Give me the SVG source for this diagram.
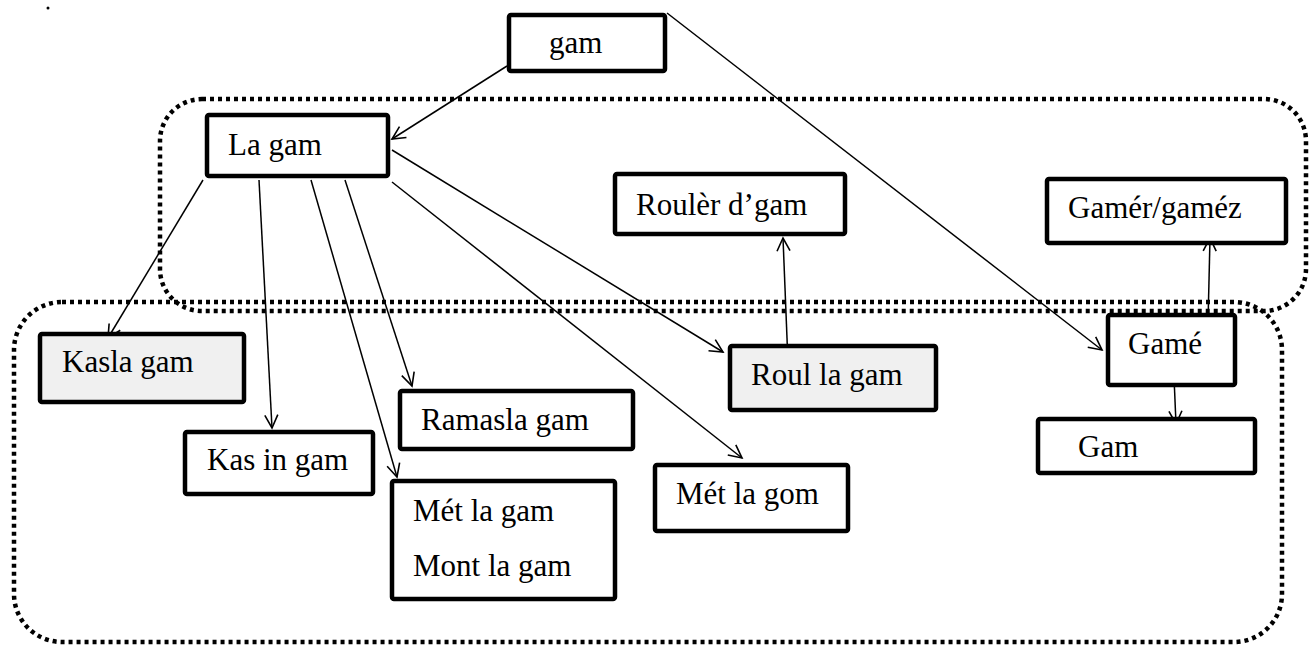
<svg xmlns="http://www.w3.org/2000/svg" width="1314" height="646" viewBox="0 0 1314 646">
  <style>
    .box { fill: #ffffff; stroke: #000; stroke-width: 4.5; stroke-linejoin: round; }
    .shade { fill: #f0f0f0; }
    .lbl { font-family: "Liberation Serif", "Times New Roman", serif; font-size: 31px; fill: #000; }
    .group { fill: none; stroke: #000; stroke-width: 4.5; stroke-dasharray: 4 4; }
    .link { fill: none; stroke: #000; stroke-width: 1.5; marker-end: url(#open); }
  </style>
  <defs>
    <marker id="open" viewBox="-14 -8 16 16" markerWidth="16" markerHeight="16" refX="0" refY="0" orient="auto" markerUnits="userSpaceOnUse">
      <path d="M -13 -6.5 L 0 0 L -13 6.5" fill="none" stroke="#000" stroke-width="1.6"/>
    </marker>
  </defs>

  <rect width="1314" height="646" fill="#fff"/>
  <circle cx="48" cy="8" r="1.5" fill="#000"/>

  <!-- dotted groupings -->
  <g id="groups">
    <rect class="group" x="160" y="99" width="1146" height="212" rx="42"/>
    <rect class="group" x="14" y="302" width="1268" height="340" rx="48"/>
  </g>

  <!-- connectors -->
  <g id="connectors">
    <line class="link" x1="507" y1="66" x2="392" y2="139"/>
    <line class="link" x1="667" y1="13" x2="1102" y2="350"/>
    <line class="link" x1="203" y1="180" x2="108" y2="338"/>
    <line class="link" x1="259" y1="180" x2="272" y2="428"/>
    <line class="link" x1="311" y1="180" x2="397" y2="477"/>
    <line class="link" x1="345" y1="180" x2="412" y2="386"/>
    <line class="link" x1="392" y1="182" x2="742" y2="458"/>
    <line class="link" x1="392" y1="150" x2="723" y2="352"/>
    <line class="link" x1="788" y1="363" x2="783" y2="238"/>
    <line class="link" x1="1208" y1="323" x2="1210" y2="238"/>
    <line class="link" x1="1174" y1="377" x2="1176" y2="424"/>
  </g>

  <!-- nodes -->
  <g id="n-gam">
    <rect class="box" x="509" y="15" width="156" height="56" rx="2"/>
    <text class="lbl" x="549" y="53">gam</text>
  </g>
  <g id="n-la-gam">
    <rect class="box" x="207" y="115" width="181" height="61" rx="2"/>
    <text class="lbl" x="228" y="155">La gam</text>
  </g>
  <g id="n-rouler-dgam">
    <rect class="box" x="615" y="174" width="230" height="60" rx="2"/>
    <text class="lbl" x="636" y="215">Roulèr d’gam</text>
  </g>
  <g id="n-gamer-gamez">
    <rect class="box" x="1047" y="179" width="239" height="64" rx="2"/>
    <text class="lbl" x="1068" y="218">Gamér/gaméz</text>
  </g>
  <g id="n-kasla-gam">
    <rect class="box shade" x="40" y="334" width="204" height="68" rx="2"/>
    <text class="lbl" x="62" y="372">Kasla gam</text>
  </g>
  <g id="n-kas-in-gam">
    <rect class="box" x="185" y="432" width="188" height="62" rx="2"/>
    <text class="lbl" x="207" y="470">Kas in gam</text>
  </g>
  <g id="n-ramasla-gam">
    <rect class="box" x="400" y="391" width="233" height="58" rx="2"/>
    <text class="lbl" x="421" y="430">Ramasla gam</text>
  </g>
  <g id="n-met-mont-la-gam">
    <rect class="box" x="392" y="481" width="223" height="118" rx="2"/>
    <text class="lbl" x="413" y="521">Mét la gam</text>
    <text class="lbl" x="413" y="576">Mont la gam</text>
  </g>
  <g id="n-met-la-gom">
    <rect class="box" x="655" y="465" width="193" height="66" rx="2"/>
    <text class="lbl" x="676" y="504">Mét la gom</text>
  </g>
  <g id="n-roul-la-gam">
    <rect class="box shade" x="730" y="346" width="206" height="64" rx="2"/>
    <text class="lbl" x="751" y="385">Roul la gam</text>
  </g>
  <g id="n-game">
    <rect class="box" x="1108" y="315" width="127" height="70" rx="2"/>
    <text class="lbl" x="1128" y="354">Gamé</text>
  </g>
  <g id="n-gam-cap">
    <rect class="box" x="1038" y="419" width="217" height="54" rx="2"/>
    <text class="lbl" x="1078" y="457">Gam</text>
  </g>
</svg>
